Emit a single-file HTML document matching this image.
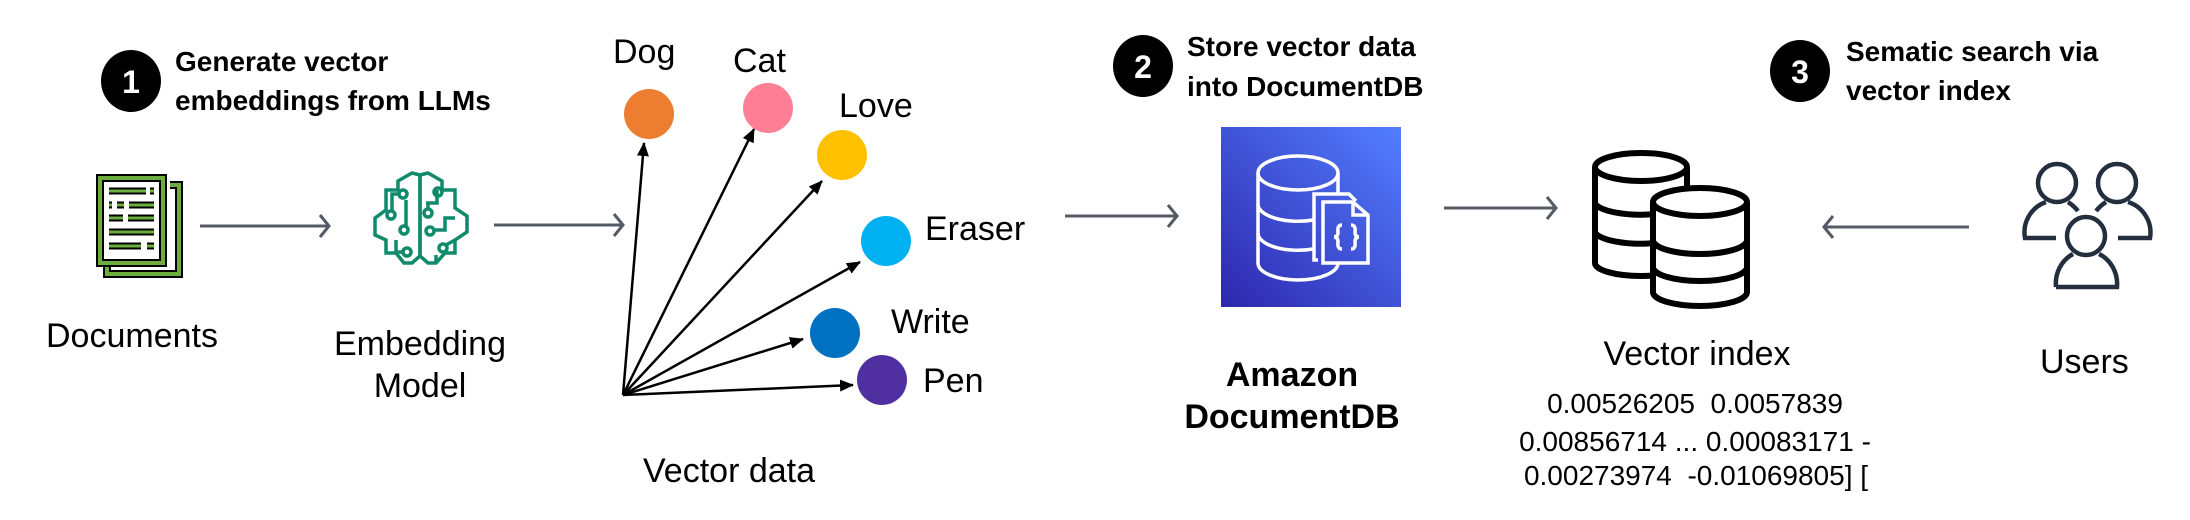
<!DOCTYPE html>
<html><head><meta charset="utf-8"><style>
html,body{margin:0;padding:0;background:#fff;}
svg{display:block;}
text{font-family:"Liberation Sans",sans-serif;}
.b{font-weight:bold;font-size:28px;fill:#000;}
.l{font-size:34px;fill:#000;}
.n{font-size:28px;fill:#000;}
</style></head><body>
<svg width="2190" height="520" viewBox="0 0 2190 520" xmlns="http://www.w3.org/2000/svg">
<defs>
<marker id="ah" markerWidth="14" markerHeight="12" refX="13" refY="6" orient="auto" markerUnits="userSpaceOnUse">
<path d="M0,0 L14,6 L0,12 z" fill="#000"/>
</marker>
<linearGradient id="dg" x1="0" y1="1" x2="1" y2="0">
<stop offset="0" stop-color="#2e27ad"/><stop offset="1" stop-color="#527fff"/>
</linearGradient>
</defs>
<rect width="2190" height="520" fill="#fff"/>

<!-- step 1 -->
<ellipse cx="131" cy="81" rx="30" ry="31" fill="#000"/>
<text x="131" y="93" text-anchor="middle" font-weight="bold" font-size="32" fill="#fff">1</text>
<text class="b" x="175" y="71">Generate vector</text>
<text class="b" x="175" y="110">embeddings from LLMs</text>

<!-- documents icon -->
<path d="M107,264 L107,274 L179,274 L179,185 L170,185" fill="none" stroke="#000" stroke-width="8"/>
<path d="M107,264 L107,274 L179,274 L179,185 L170,185" fill="none" stroke="#6cae3e" stroke-width="4"/>
<rect x="100" y="178" width="63" height="85" fill="#fff" stroke="#000" stroke-width="8"/>
<rect x="100" y="178" width="63" height="85" fill="none" stroke="#6cae3e" stroke-width="4"/>
<g stroke="#000" stroke-width="7">
<line x1="109" y1="191" x2="146" y2="191"/><line x1="150" y1="191" x2="154" y2="191"/>
<line x1="109" y1="205" x2="112" y2="205"/><line x1="117" y1="205" x2="124" y2="205"/><line x1="129" y1="205" x2="154" y2="205"/>
<line x1="109" y1="218" x2="123" y2="218"/><line x1="128" y1="218" x2="154" y2="218"/>
<line x1="109" y1="232" x2="154" y2="232"/>
<line x1="109" y1="246" x2="141" y2="246"/><line x1="147" y1="246" x2="154" y2="246"/>
</g>
<g stroke="#6cae3e" stroke-width="3">
<line x1="109" y1="191" x2="146" y2="191"/><line x1="150" y1="191" x2="154" y2="191"/>
<line x1="109" y1="205" x2="112" y2="205"/><line x1="117" y1="205" x2="124" y2="205"/><line x1="129" y1="205" x2="154" y2="205"/>
<line x1="109" y1="218" x2="123" y2="218"/><line x1="128" y1="218" x2="154" y2="218"/>
<line x1="109" y1="232" x2="154" y2="232"/>
<line x1="109" y1="246" x2="141" y2="246"/><line x1="147" y1="246" x2="154" y2="246"/>
</g>
<text class="l" x="46" y="347">Documents</text>

<!-- gray arrows -->
<g stroke="#545b64" stroke-width="3" fill="none">
<line x1="200" y1="226" x2="329" y2="226"/><path d="M320,215 L329,226 L320,237"/>
<line x1="494" y1="225" x2="623" y2="225"/><path d="M614,214 L623,225 L614,236"/>
<line x1="1065" y1="216" x2="1177" y2="216"/><path d="M1168,205 L1177,216 L1168,227"/>
<line x1="1444" y1="208" x2="1556" y2="208"/><path d="M1547,197 L1556,208 L1547,219"/>
<line x1="1969" y1="227" x2="1824" y2="227"/><path d="M1833,216 L1824,227 L1833,238"/>
</g>

<!-- brain icon -->
<g stroke="#0f8a6a" stroke-width="3.5" fill="none" stroke-linejoin="miter">
<path d="M420,175 L412,173 L398,181 L398,190 L386,190 L386,210 L375,218 L375,235 L386,240 L386,253 L396,253 L404,263 L412,263 L420,256 Z"/>
<path d="M420,175 L428,173 L442,181 L442,190 L455,190 L455,208 L467,216 L467,232 L455,240 L455,253 L445,253 L436,263 L428,263 L420,256 Z"/>
<path d="M392,198 L392,212"/><circle cx="403" cy="194" r="4"/><path d="M399,194 L392,194 L392,198"/>
<circle cx="391" cy="215" r="4"/>
<path d="M406,200 L406,226"/><circle cx="404" cy="230" r="4"/>
<path d="M396,240 L396,252 L403,252"/><circle cx="407" cy="252" r="4"/>
<path d="M437,198 L437,190"/><circle cx="438" cy="192" r="4"/><path d="M426,203 L437,203 L437,196"/>
<path d="M428,203 L428,210"/><circle cx="428" cy="213" r="4"/>
<path d="M455,218 L445,218 L445,230 L433,230"/><circle cx="430" cy="231" r="4"/>
<path d="M436,262 L436,255"/><circle cx="443" cy="248" r="4"/><path d="M446,245 L455,240"/>
</g>
<text class="l" x="420" y="355" text-anchor="middle">Embedding</text>
<text class="l" x="420" y="397" text-anchor="middle">Model</text>

<!-- vectors -->
<g stroke="#000" stroke-width="2.5" marker-end="url(#ah)">
<line x1="623" y1="395" x2="644" y2="143"/>
<line x1="623" y1="395" x2="754" y2="129"/>
<line x1="623" y1="395" x2="822" y2="181"/>
<line x1="623" y1="395" x2="860" y2="262"/>
<line x1="623" y1="395" x2="803" y2="339"/>
<line x1="623" y1="395" x2="853" y2="385"/>
</g>
<circle cx="649" cy="114" r="25" fill="#ed7d31"/>
<circle cx="768" cy="108" r="25" fill="#ff8096"/>
<circle cx="842" cy="155" r="25" fill="#ffc000"/>
<circle cx="886" cy="241" r="25" fill="#00b0f0"/>
<circle cx="835" cy="333" r="25" fill="#0070c0"/>
<circle cx="882" cy="380" r="25" fill="#5030a0"/>
<text class="l" x="613" y="63">Dog</text>
<text class="l" x="733" y="72">Cat</text>
<text class="l" x="839" y="117">Love</text>
<text class="l" x="925" y="240">Eraser</text>
<text class="l" x="891" y="333">Write</text>
<text class="l" x="923" y="392">Pen</text>
<text class="l" x="643" y="482">Vector data</text>

<!-- step 2 -->
<ellipse cx="1143" cy="66" rx="30" ry="31" fill="#000"/>
<text x="1143" y="78" text-anchor="middle" font-weight="bold" font-size="32" fill="#fff">2</text>
<text class="b" x="1187" y="56">Store vector data</text>
<text class="b" x="1187" y="96">into DocumentDB</text>

<rect x="1221" y="127" width="180" height="180" fill="url(#dg)"/>
<g stroke="#fff" stroke-width="3.5" fill="none">
<ellipse cx="1298" cy="173" rx="40" ry="17"/>
<path d="M1258,173 L1258,263 A40,17 0 0 0 1338,263"/>
<path d="M1338,173 L1338,195"/>
<path d="M1258,204 A40,17 0 0 0 1313,220"/>
<path d="M1258,233 A40,17 0 0 0 1313,249"/>
<path d="M1318,260 L1314,260 L1314,194 L1349,194 L1356,201"/>
<path d="M1323,202 L1353,202 L1368,215 L1368,263 L1323,263 Z"/>
<path d="M1353,202 L1353,215 L1368,215"/>
<path d="M1342,225 Q1337,225 1338,232 Q1338,237 1334,237 Q1338,237 1338,242 Q1337,249 1342,249"/>
<path d="M1351,225 Q1356,225 1355,232 Q1355,237 1359,237 Q1355,237 1355,242 Q1356,249 1351,249"/>
</g>
<text class="l" x="1292" y="386" text-anchor="middle" font-weight="bold">Amazon</text>
<text class="l" x="1292" y="428" text-anchor="middle" font-weight="bold">DocumentDB</text>

<!-- vector index -->
<g stroke="#000" stroke-width="6" fill="#fff">
<path d="M1595,167 L1595,263 A46,13 0 0 0 1687,263 L1687,167"/>
<ellipse cx="1641" cy="167" rx="46" ry="14"/>
<path d="M1595,203 A46,13 0 0 0 1655,214" fill="none"/>
<path d="M1595,232 A46,13 0 0 0 1655,243" fill="none"/>
<path d="M1653,202 L1653,292 A47,14 0 0 0 1747,292 L1747,202"/>
<ellipse cx="1700" cy="202" rx="47" ry="14"/>
<path d="M1653,240 A47,14 0 0 0 1747,240" fill="none"/>
<path d="M1653,267 A47,14 0 0 0 1747,267" fill="none"/>
</g>
<text class="l" x="1697" y="365" text-anchor="middle">Vector index</text>
<text class="n" x="1695" y="413" text-anchor="middle" xml:space="preserve">0.00526205  0.0057839</text>
<text class="n" x="1695" y="451" text-anchor="middle">0.00856714 ...  0.00083171 -</text>
<text class="n" x="1696" y="485" text-anchor="middle" xml:space="preserve">0.00273974  -0.01069805] [</text>

<!-- step 3 -->
<ellipse cx="1800" cy="71" rx="30" ry="31" fill="#000"/>
<text x="1800" y="83" text-anchor="middle" font-weight="bold" font-size="32" fill="#fff">3</text>
<text class="b" x="1846" y="61">Sematic search via</text>
<text class="b" x="1846" y="100">vector index</text>

<!-- users -->
<g stroke="#232f3e" stroke-width="4.5" fill="none">
<circle cx="2057" cy="183" r="19"/>
<circle cx="2117" cy="183" r="19"/>
<circle cx="2086" cy="236" r="19"/>
<path d="M2056,238 L2025,238 A32,32 0 0 1 2046,202"/>
<path d="M2068,202 Q2074,206 2078,211"/>
<path d="M2096,211 Q2100,206 2106,202"/>
<path d="M2128,202 A32,32 0 0 1 2150,238 L2118,238"/>
<path d="M2056,287 A31,33 0 0 1 2073,254 M2099,254 A31,33 0 0 1 2117,287 L2056,287"/>
</g>
<text class="l" x="2040" y="373">Users</text>
</svg>
</body></html>
